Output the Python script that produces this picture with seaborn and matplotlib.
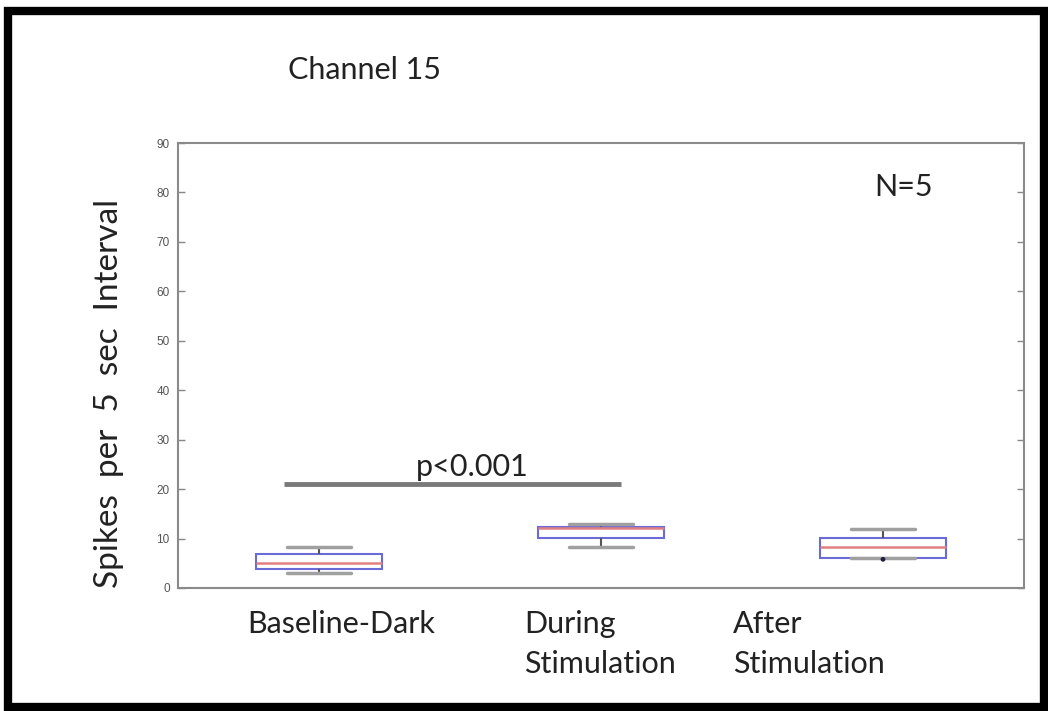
import matplotlib
matplotlib.use("Agg")
import matplotlib.pyplot as plt
import matplotlib.transforms as mtransforms
from matplotlib.patches import Rectangle
import seaborn as sns
import pandas as pd

# ---- data ----
categories = ["Baseline-Dark", "During\nStimulation", "After\nStimulation"]
baseline_vals = [3.1, 3.9, 5.1, 6.8, 8.2]
during_vals = [8.2, 10.1, 12.1, 12.4, 13.0]
after_vals = [6.0, 6.0, 8.3, 10.1, 12.0]
after_low_point = [5.8]
yticks = [0, 10, 20, 30, 40, 50, 60, 70, 80, 90]
sig_label = "p<0.001"
sig_y = 21.0
sig_x = [-0.125, 1.07]
n_label = "N=5"
title = "Channel 15"
ylabel = "Spikes  per  5  sec  Interval"

rows = []
for cat, vals in zip(categories, [baseline_vals, during_vals, after_vals]):
    for v in vals:
        rows.append({"condition": cat, "value": v})
df = pd.DataFrame(rows)

sns.set_theme(style="white")
plt.rcParams["font.family"] = ["Lato", "DejaVu Sans"]

fig = plt.figure(figsize=(10.48, 7.11), dpi=100)
ax = fig.add_axes([178 / 1048, 1 - 588 / 711, 846 / 1048, 445 / 711])

sns.boxplot(
    data=df, x="condition", y="value", order=categories, ax=ax,
    width=0.45, color="white", linecolor="#6a6ad8", linewidth=1.5,
    showfliers=False,
    boxprops=dict(facecolor="white", edgecolor="#6a6ad8", linewidth=1.5),
    medianprops=dict(color="#e08080", linewidth=1.8),
    whiskerprops=dict(color="#555555", linewidth=1.5),
    capprops=dict(color="#a0a0a0", linewidth=2.5),
)
sns.scatterplot(x=[categories[2]] * len(after_low_point), y=after_low_point,
                ax=ax, color="#202040", s=12, edgecolor="none", zorder=5)

ax.set_xlim(-0.5, 2.5)
ax.set_ylim(0, 90)
ax.set_yticks(yticks)
ax.set_yticklabels([str(t) for t in yticks], fontsize=8.5, color="#555555",
                   family=["Liberation Sans"])
ax.tick_params(axis="y", direction="in", length=5, width=1, color="#888888",
               left=True, right=True, pad=6)
ax.tick_params(axis="x", length=0, pad=16)
ax.set_xlabel("")
ax.set_ylabel("")
for s in ax.spines.values():
    s.set_color("#8a8a8a")
    s.set_linewidth(1.5)

# x tick labels, left-aligned as in the reference
offsets_px = [-72, -77, -150]
for lab, dx in zip(ax.get_xticklabels(), offsets_px):
    lab.set_fontsize(22)
    lab.set_color("#222222")
    lab.set_horizontalalignment("left")
    lab.set_verticalalignment("top")
    lab.set_linespacing(1.5)
    lab.set_transform(lab.get_transform() +
                      mtransforms.ScaledTranslation(dx / 100, 0, fig.dpi_scale_trans))

# significance bar
ax.plot(sig_x, [sig_y, sig_y], color="#7a7a7a", linewidth=3.5, solid_capstyle="butt")
ax.text(0.543, sig_y + 0.6, sig_label, ha="center", va="bottom",
        fontsize=22, color="#222222")

ax.text(2.073, 81, n_label, ha="center", va="center", fontsize=22, color="#222222")

fig.text(365 / 1048, 1 - 70 / 711, title, ha="center", va="center",
         fontsize=22, color="#222222")
fig.text(109 / 1048, 1 - 393 / 711, ylabel, ha="center", va="center",
         rotation=90, fontsize=24, color="#222222")

# outer black frame
fig.patches.append(Rectangle((8 / 1048, 4 / 711), 1036 / 1048, 696 / 711,
                             transform=fig.transFigure, fill=False,
                             edgecolor="black", linewidth=6))

fig.savefig("out.png", dpi=100)
